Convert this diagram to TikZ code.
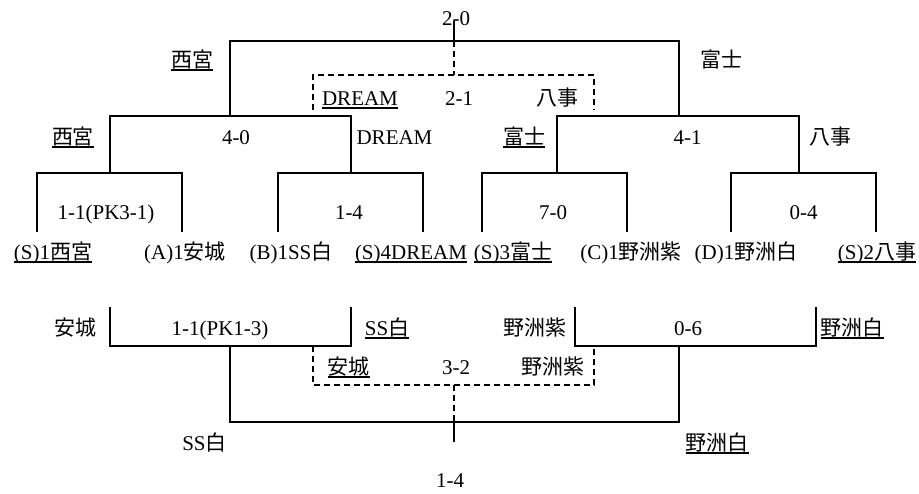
\documentclass[tikz,border=0pt]{standalone}
\usepackage{fontspec}
\setmainfont{Liberation Serif}
\newfontfamily\jp{Noto Sans CJK JP}
\newcommand\ulbox[1]{\setbox0\hbox{#1}\rlap{\rule[-3.5pt]{\wd0}{1.8pt}}\box0}

\begin{document}
\begin{tikzpicture}[x=1pt,y=-1pt,line width=1.8pt]
        \tikzstyle{lbl}=[inner sep=0pt,font=\fontsize{21}{25}\selectfont,text height=15pt,text depth=4pt]
        \tikzstyle{dsh}=[dash pattern=on 6pt off 4pt]
        \useasboundingbox (0,0) rectangle (919,493);
        % upper bracket
        \coordinate (a1) at (37,232);  \coordinate (a2) at (182,232);
        \coordinate (a3) at (278,232); \coordinate (a4) at (423,232);
        \coordinate (a5) at (482,232); \coordinate (a6) at (627,232);
        \coordinate (a7) at (731,232); \coordinate (a8) at (876,232);
        \coordinate (q1) at (110,173); \coordinate (q2) at (351,173);
        \coordinate (q3) at (557,173); \coordinate (q4) at (799,173);
        \coordinate (s1) at (230,116); \coordinate (s2) at (679,116);
        \coordinate (fn) at (454,41);  \coordinate (fntop) at (454,20.5);
        \draw (a1) |- (q1) -| (a2);
        \draw (a3) |- (q2) -| (a4);
        \draw (a5) |- (q3) -| (a6);
        \draw (a7) |- (q4) -| (a8);
        \draw (q1) |- (s1) -| (q2);
        \draw (q3) |- (s2) -| (q4);
        \draw (s1) |- (fn) -| (s2);
        \draw (fn) -- (fntop);
        % third place (upper)
        \coordinate (e1) at (313,110); \coordinate (e2) at (594,110);
        \coordinate (fdash) at (454,75);
        \draw[dsh] (fn) -- (fdash);
        \draw[dsh] (e1) |- (fdash) -| (e2);
        % lower bracket
        \coordinate (b1) at (110,307); \coordinate (b2) at (351,307);
        \coordinate (b3) at (575,307); \coordinate (b4) at (816,307);
        \coordinate (c1) at (230,346); \coordinate (c2) at (679,346);
        \coordinate (d) at (454,422);  \coordinate (dbot) at (454,442);
        \draw (b1) |- (c1) -| (b2);
        \draw (b3) |- (c2) -| (b4);
        \draw (c1) |- (d) -| (c2);
        \draw (d) -- (dbot);
        \coordinate (g1) at (313,346); \coordinate (g2) at (594,346);
        \coordinate (gdash) at (454,385);
        \draw[dsh] (g1) |- (gdash) -| (g2);
        \draw[dsh] (gdash) -- (d);
        % labels, upper
        \node[lbl](fsc) at (456,19.5){2-0};
        \node[lbl](wl0) at (192,61.5){\ulbox{\jp 西宮}};
        \node[lbl](wr0) at (721,61.5){\jp 富士};
        \node[lbl](d1a) at (360,99.5){\ulbox{DREAM}};
        \node[lbl](d1s) at (459,99.5){2-1};
        \node[lbl](d1b) at (557,99.5){\jp 八事};
        \node[lbl](wl1) at (73,138.5){\ulbox{\jp 西宮}};
        \node[lbl](ssc1) at (236,138.5){4-0};
        \node[lbl](wl2) at (394.5,138.5){DREAM};
        \node[lbl](wr1) at (524,138.5){\ulbox{\jp 富士}};
        \node[lbl](ssc2) at (687.5,138.5){4-1};
        \node[lbl](wr2) at (830.5,138.5){\jp 八事};
        \node[lbl](qsc1) at (106,213.5){1-1(PK3-1)};
        \node[lbl](qsc2) at (349,213.5){1-4};
        \node[lbl](qsc3) at (553,213.5){7-0};
        \node[lbl](qsc4) at (803.5,213.5){0-4};
        % teams
        \node[lbl](t1) at (53,253.5){\ulbox{(S)1{\jp 西宮}}};
        \node[lbl](t2) at (185,253.5){(A)1{\jp 安城}};
        \node[lbl](t3) at (291,253.5){(B)1SS{\jp 白}};
        \node[lbl](t4) at (411,253.5){\ulbox{(S)4DREAM}};
        \node[lbl](t5) at (513,253.5){\ulbox{(S)3{\jp 富士}}};
        \node[lbl](t6) at (631,253.5){(C)1{\jp 野洲紫}};
        \node[lbl](t7) at (746,253.5){(D)1{\jp 野洲白}};
        \node[lbl](t8) at (877,253.5){\ulbox{(S)2{\jp 八事}}};
        % labels, lower
        \node[lbl](ll1) at (75,329.5){\jp 安城};
        \node[lbl](lsc1) at (220,329.5){1-1(PK1-3)};
        \node[lbl](ll2) at (387,329.5){\ulbox{SS{\jp 白}}};
        \node[lbl](lr1) at (535,329.5){\jp 野洲紫};
        \node[lbl](lsc2) at (688,329.5){0-6};
        \node[lbl](lr2) at (852,329.5){\ulbox{\jp 野洲白}};
        \node[lbl](d2a) at (348.5,368.5){\ulbox{\jp 安城}};
        \node[lbl](d2s) at (456,368.5){3-2};
        \node[lbl](d2b) at (553,368.5){\jp 野洲紫};
        \node[lbl](lf1) at (204.5,444.5){SS{\jp 白}};
        \node[lbl](lf2) at (717,444.5){\ulbox{\jp 野洲白}};
        \node[lbl](lfsc) at (450,481.5){1-4};
\end{tikzpicture}
\end{document}
